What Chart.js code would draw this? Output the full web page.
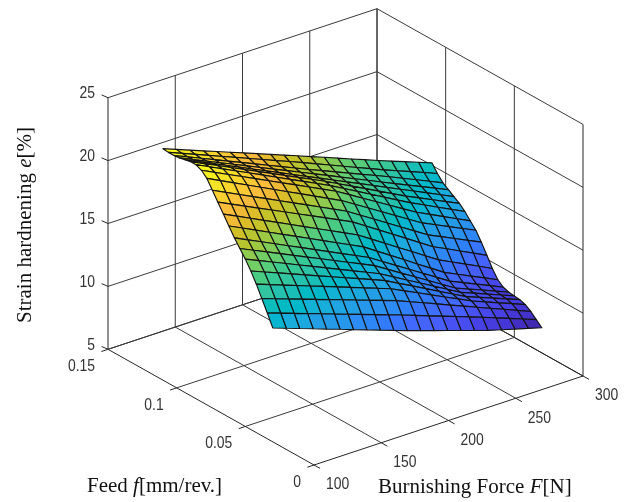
<!DOCTYPE html>
<html><head><meta charset="utf-8">
<style>html,body{margin:0;padding:0;background:#fff}canvas{display:block}</style>
<script src="https://cdn.jsdelivr.net/npm/chart.js@4"></script></head>
<body><canvas id="c" width="630" height="502"></canvas>
<script>
const forceValues=[100,110,120,130,140,150,160,170,180,190,200,210,220,230,240,250,260,270,280,290,300];
const feedValues=[0.03,0.034,0.038,0.042,0.046,0.05,0.054,0.058,0.062,0.066,0.07,0.074,0.078,0.082,0.086,0.09,0.094,0.098,0.102,0.106,0.11];
const strainRows=[
[14.05,13.68,13.30,12.93,12.55,12.18,11.80,11.43,11.05,10.68,10.30,9.95,9.60,9.25,8.90,8.55,8.20,7.90,7.60,7.30,7.00],
[15.00,14.63,14.26,13.89,13.52,13.15,12.78,12.41,12.04,11.67,11.30,10.92,10.53,10.15,9.77,9.38,9.00,8.60,8.20,7.80,7.40],
[15.90,15.53,15.16,14.79,14.42,14.05,13.68,13.31,12.94,12.57,12.20,11.76,11.32,10.88,10.43,9.99,9.55,9.11,8.68,8.24,7.80],
[16.80,16.41,16.02,15.63,15.24,14.85,14.46,14.07,13.68,13.29,12.90,12.38,11.87,11.35,10.83,10.32,9.80,9.38,8.95,8.53,8.10],
[17.60,17.17,16.74,16.31,15.88,15.45,15.02,14.59,14.16,13.73,13.30,12.73,12.17,11.60,11.03,10.47,9.90,9.49,9.08,8.66,8.25],
[18.30,17.83,17.36,16.89,16.42,15.95,15.48,15.01,14.54,14.07,13.60,13.00,12.40,11.80,11.20,10.60,10.00,9.58,9.15,8.73,8.30],
[18.90,18.41,17.92,17.43,16.94,16.45,15.96,15.47,14.98,14.49,14.00,13.35,12.70,12.05,11.40,10.75,10.10,9.66,9.23,8.79,8.35],
[19.50,18.99,18.48,17.97,17.46,16.95,16.44,15.93,15.42,14.91,14.40,13.73,13.07,12.40,11.73,11.07,10.40,9.93,9.45,8.98,8.50],
[20.20,19.68,19.16,18.64,18.12,17.60,17.08,16.56,16.04,15.52,15.00,14.31,13.62,12.93,12.23,11.54,10.85,10.35,9.85,9.35,8.85],
[20.90,20.38,19.86,19.34,18.82,18.30,17.78,17.26,16.74,16.22,15.70,15.02,14.33,13.65,12.97,12.28,11.60,11.08,10.55,10.03,9.50],
[21.60,21.09,20.58,20.07,19.56,19.05,18.54,18.03,17.52,17.01,16.50,15.82,15.13,14.45,13.77,13.08,12.40,11.88,11.35,10.83,10.30],
[22.30,21.78,21.26,20.74,20.22,19.70,19.18,18.66,18.14,17.62,17.10,16.43,15.77,15.10,14.43,13.77,13.10,12.60,12.10,11.60,11.10],
[23.00,22.47,21.94,21.41,20.88,20.35,19.82,19.29,18.76,18.23,17.70,17.05,16.40,15.75,15.10,14.45,13.80,13.30,12.80,12.30,11.80],
[23.40,22.88,22.36,21.84,21.32,20.80,20.28,19.76,19.24,18.72,18.20,17.57,16.93,16.30,15.67,15.03,14.40,13.88,13.35,12.83,12.30],
[23.60,23.08,22.56,22.04,21.52,21.00,20.48,19.96,19.44,18.92,18.40,17.82,17.23,16.65,16.07,15.48,14.90,14.38,13.85,13.33,12.80],
[23.60,23.09,22.58,22.07,21.56,21.05,20.54,20.03,19.52,19.01,18.50,17.95,17.40,16.85,16.30,15.75,15.20,14.70,14.20,13.70,13.20],
[23.50,23.00,22.50,22.00,21.50,21.00,20.50,20.00,19.50,19.00,18.50,18.00,17.50,17.00,16.50,16.00,15.50,15.00,14.50,14.00,13.50],
[23.40,22.92,22.44,21.96,21.48,21.00,20.52,20.04,19.56,19.08,18.60,18.12,17.63,17.15,16.67,16.18,15.70,15.23,14.75,14.28,13.80],
[23.35,22.89,22.42,21.96,21.49,21.03,20.56,20.10,19.63,19.17,18.70,18.25,17.80,17.35,16.90,16.45,16.00,15.53,15.05,14.58,14.10],
[23.35,22.92,22.48,22.05,21.61,21.18,20.74,20.31,19.87,19.44,19.00,18.55,18.10,17.65,17.20,16.75,16.30,15.88,15.45,15.03,14.60],
[23.40,22.99,22.58,22.17,21.76,21.35,20.94,20.53,20.12,19.71,19.30,18.88,18.47,18.05,17.63,17.22,16.80,16.40,16.00,15.60,15.20]
];
const forceTicks=[100,150,200,250,300];
const feedTicks=[0,0.05,0.1,0.15];
const feedTickLabels=['0','0.05','0.1','0.15'];
const strainTicks=[5,10,15,20,25];
const parula=[[.2422,.1504,.6603],[.2504,.165,.7076],[.2578,.1818,.7511],[.2647,.1978,.7952],[.2706,.2147,.8364],[.2751,.2342,.871],[.2783,.2559,.8991],[.2803,.2782,.9221],[.2813,.3006,.9414],[.281,.3228,.9579],[.2795,.3447,.9717],[.276,.3667,.9829],[.2699,.3892,.9906],[.2602,.4123,.9952],[.244,.4358,.9988],[.2206,.4603,.9973],[.1963,.4847,.9892],[.1834,.5074,.9798],[.1786,.5289,.9682],[.1764,.5499,.952],[.1687,.5703,.9359],[.154,.5902,.9218],[.146,.6091,.9079],[.138,.6276,.8973],[.1248,.6459,.8883],[.1113,.6635,.8763],[.0952,.6798,.8598],[.0689,.6948,.8394],[.0297,.7082,.8163],[.0036,.7203,.7917],[.0067,.7312,.766],[.0433,.7411,.7394],[.0964,.75,.712],[.1408,.7584,.6842],[.1717,.767,.6554],[.1938,.7758,.6251],[.2161,.7843,.5923],[.247,.7918,.5567],[.2906,.7973,.5188],[.3406,.8008,.4789],[.3909,.8029,.4354],[.4456,.8024,.3909],[.5044,.7993,.348],[.5616,.7942,.3045],[.6174,.7876,.2612],[.672,.7793,.2227],[.7242,.7698,.191],[.7738,.7598,.1646],[.8203,.7498,.1535],[.8634,.7406,.1596],[.9035,.733,.1774],[.9393,.7288,.21],[.9728,.7298,.2394],[.9956,.7434,.2371],[.997,.7659,.2199],[.9952,.7893,.2028],[.9892,.8136,.1885],[.9786,.8386,.1766],[.9676,.8639,.1643],[.961,.889,.1537],[.9597,.9135,.1423],[.9628,.9373,.1265],[.9691,.9606,.1064],[.9769,.9839,.0805]];

// orthographic view of the MATLAB axes box, mapped to canvas units
function project(F,f,e){
  const a=(F-100)/200,b=f/0.15,c=(e-5)/20;
  return {x:314+269*a-206*b, y:465-89*a-115.7*b-251.6*c};
}
const all=strainRows.flat();
const eMin=Math.min(...all),eMax=Math.max(...all);
function colour(e){
  const c=parula[Math.min(63,Math.floor((e-eMin)/(eMax-eMin)*64))];
  return `rgb(${c.map(v=>Math.round(v*255)).join(',')})`;
}
const drawList=[];
function segment(p,q,color){
  drawList.push({type:'line',data:[p,q],borderColor:color,borderWidth:1,pointRadius:0,fill:false,tension:0});
}
const BOX='#262626',GRID='#3a3a3a';
// walls and floor
strainTicks.forEach(e=>{
  segment(project(100,.15,e),project(300,.15,e),e==5?BOX:GRID);
  segment(project(300,.15,e),project(300,0,e),e==5?BOX:GRID);
});
forceTicks.forEach(F=>{
  segment(project(F,.15,5),project(F,.15,25),F==100||F==300?BOX:GRID);
  segment(project(F,0,5),project(F,.15,5),F==100||F==300?BOX:GRID);
});
feedTicks.forEach(f=>{
  segment(project(300,f,5),project(300,f,25),f==0?BOX:GRID);
  segment(project(100,f,5),project(300,f,5),f==0?BOX:GRID);
});
// tick stubs
function stub(p,dx,dy){segment(p,{x:p.x+dx,y:p.y+dy},BOX);}
strainTicks.forEach(e=>stub(project(100,.15,e),-6.4,-2.8));
feedTicks.forEach(f=>stub(project(100,f,5),-6.6,2.2));
forceTicks.forEach(F=>stub(project(F,0,5),6.1,3.4));
// surface, far cells first
for(let j=feedValues.length-2;j>=0;j--){
  for(let i=forceValues.length-2;i>=0;i--){
    const v=[[i,j],[i+1,j],[i+1,j+1],[i,j+1],[i,j]].map(([a,b])=>project(forceValues[a],feedValues[b],strainRows[b][a]));
    const e=(strainRows[j][i]+strainRows[j][i+1]+strainRows[j+1][i]+strainRows[j+1][i+1])/4;
    drawList.push({type:'line',data:v,backgroundColor:colour(e),borderColor:'#141414',borderWidth:1.15,pointRadius:0,fill:'shape',tension:0,borderJoinStyle:'round'});
  }
}
const textPlugin={id:'axisText',afterDatasetsDraw(chart){
  const ctx=chart.ctx,X=chart.scales.x,Y=chart.scales.y;
  const px=p=>({x:X.getPixelForValue(p.x),y:Y.getPixelForValue(p.y)});
  ctx.save();
  ctx.fillStyle='#333';ctx.textBaseline='middle';
  function tick(txt,x,y,align){
    ctx.save();ctx.translate(x,y);ctx.scale(.87,1);ctx.font='16px "Liberation Sans"';ctx.textAlign=align;ctx.fillText(txt,0,0);ctx.restore();
  }
  strainTicks.forEach(e=>{const p=px(project(100,.15,e));tick(String(e),p.x-13,p.y-4,'right');});
  feedTicks.forEach((f,k)=>{const p=px(project(100,f,5));tick(feedTickLabels[k],p.x-13,p.y+17.5,'right');});
  forceTicks.forEach(F=>{const p=px(project(F,0,5));tick(String(F),p.x+12,p.y+20,'left');});
  ctx.fillStyle='#111';
  function label(parts,x,y,rot,size){
    ctx.save();ctx.translate(x,y);ctx.rotate(rot);ctx.textAlign='left';let at=0;
    parts.forEach(([t,it])=>{ctx.font=(it?'italic ':'')+size+'px "Liberation Serif"';ctx.fillText(t,at,0);at+=ctx.measureText(t).width;});
    ctx.restore();
  }
  label([['Feed '],['f',1],['[mm/rev.]']],87,486,0,21);
  label([['Burnishing Force '],['F',1],['[N]']],378,487,0,21);
  label([['Strain hardnening '],['e',1],['[%]']],25,323,-Math.PI/2,21);
  ctx.restore();
}};
new Chart(document.getElementById('c'),{
  data:{datasets:drawList.reverse()},
  options:{responsive:false,animation:false,parsing:false,normalized:false,
    layout:{padding:0},
    plugins:{legend:{display:false},tooltip:{enabled:false},title:{display:false}},
    elements:{line:{capBezierPoints:false}},
    scales:{x:{type:'linear',min:0,max:630,display:false},y:{type:'linear',min:0,max:502,reverse:true,display:false}}
  },
  plugins:[textPlugin]
});
</script></body></html>
